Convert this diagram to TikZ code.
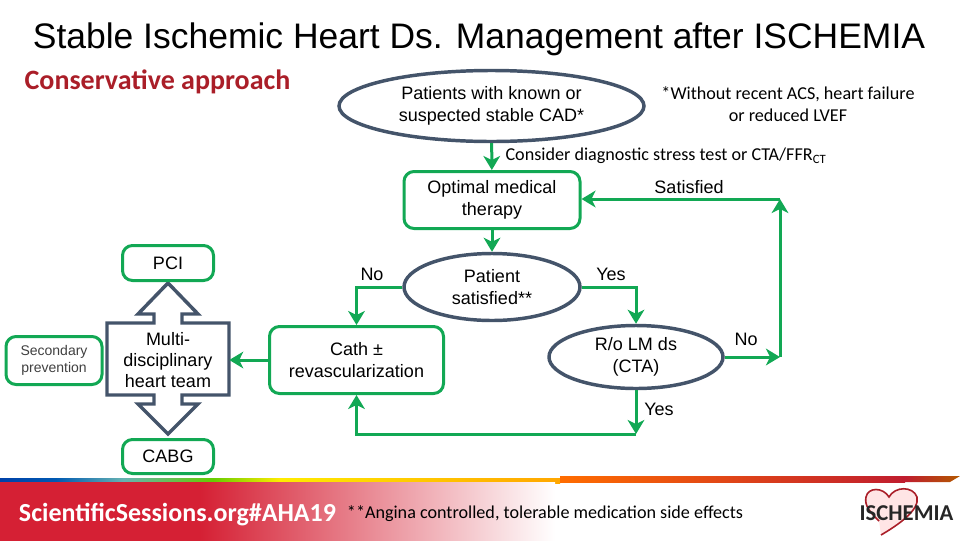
\documentclass[tikz,border=0pt]{standalone}
\usepackage{fontspec}
\setmainfont{Liberation Sans}
\newfontfamily\calibrifont{Carlito}
\usetikzlibrary{arrows.meta}
\usetikzlibrary{shapes.geometric}
\definecolor{flowgreen}{RGB}{18,168,84}
\definecolor{slateline}{RGB}{68,84,106}
\definecolor{titlered}{RGB}{170,30,40}
\definecolor{bandred}{RGB}{213,32,52}
\pgfdeclarehorizontalshading{rainbowband}{100bp}{
 color(0bp)=(bandred); color(6bp)=(purple!70!black); color(12bp)=(blue!55!black);
 color(30bp)=(blue!50!cyan!70!black); color(36bp)=(teal!60!white);
 color(44bp)=(green!50!yellow!80!black); color(50bp)=(yellow!85!orange);
 color(70bp)=(yellow!40!orange); color(100bp)=(orange!85!red)}
\tikzset{
 greenbox/.style={draw=flowgreen,line width=2.25pt,rounded corners=7.5pt,fill=white,align=center,inner sep=0pt,font=\fontsize{13.5}{16.5}\selectfont},
 slateoval/.style={ellipse,draw=slateline,line width=2.6pt,fill=white,align=center,inner sep=0pt,font=\fontsize{13.5}{16.5}\selectfont},
 flow/.style={draw=flowgreen,line width=2.25pt,-{Stealth[length=10.5pt,width=12.5pt,inset=3pt]}},
 lbl/.style={inner sep=0pt,font=\fontsize{13.5}{16.5}\selectfont},
 notetext/.style={inner sep=0pt,align=center,font=\calibrifont\fontsize{13.6}{16.5}\selectfont},
}
\begin{document}
\begin{tikzpicture}[x=0.75pt,y=-0.75pt]
    \useasboundingbox (0,0) rectangle (960,540);
    % footer
    \shade[shading=rainbowband] (0,478) rectangle (560,483);
    \shade[left color=orange!85!red,right color=bandred!90!black] (560,476) rectangle (905,482);
    \shade[left color=bandred!90!black,right color=orange!70!black] (905,476) -- (960,476) -- (950,482) -- (905,482) -- cycle;
    \fill[bandred] (0,482) rectangle (200,541);
    \shade[left color=bandred,right color=white] (200,482) rectangle (555,541);
    % logo
    \draw[titlered,line width=1.2pt,fill=red!10] (881,535) .. controls (898,525) and (920,510) .. (917,497)
        .. controls (913,486) and (895,486) .. (889,497) .. controls (883,487) and (868,487) .. (866,497)
        .. controls (864,506) and (871,513) .. (879,521);
    \node (logo) at (906.5,513) [inner sep=0pt,font=\calibrifont\bfseries\fontsize{17}{19}\selectfont,text=black!85] {ISCHEMIA};
    % texts
    \node (title) at (479,39) [inner sep=0pt,font=\fontsize{26.6}{30}\selectfont] {Stable Ischemic Heart Ds. Management after ISCHEMIA};
    \node (approach) at (157.5,82) [inner sep=0pt,text=titlered,font=\calibrifont\bfseries\fontsize{21}{24}\selectfont] {Conservative approach};
    \node (withoutnote) at (788,104.5) [notetext] {*Without recent ACS, heart failure\\or reduced LVEF};
    \node (considernote) at (666,156) [notetext] {Consider diagnostic stress test or CTA/FFR\textsubscript{CT}};
    \node (sessions) at (177.5,515) [inner sep=0pt,text=white,font=\calibrifont\bfseries\fontsize{19.5}{22}\selectfont] {ScientificSessions.org\#AHA19};
    \node (anginanote) at (545,514) [notetext] {**Angina controlled, tolerable medication side effects};
    % heart team arrow
    \draw[slateline,line width=2.6pt,fill=white,line join=miter] (107,323) -- (154,323) -- (154,314) -- (138,314)
        -- (168,283) -- (198,314) -- (182,314) -- (182,323) -- (229,323) -- (229,395) -- (182,395) -- (182,404)
        -- (198,404) -- (168,434) -- (138,404) -- (154,404) -- (154,395) -- (107,395) -- cycle;
    \node (team) at (168,360) [minimum width=122*0.75pt,minimum height=72*0.75pt,inner sep=0pt,align=center,font=\fontsize{13.5}{15.7}\selectfont] {Multi-\\disciplinary\\heart team};
    % boxes
    \node (start) at (491.5,106) [slateoval,minimum width=305*0.75pt,minimum height=71*0.75pt] {Patients with known or\\suspected stable CAD*};
    \node (omt) at (492,200) [greenbox,minimum width=176*0.75pt,minimum height=57*0.75pt] {Optimal medical\\therapy};
    \node (satisfied) at (492,287) [slateoval,minimum width=176*0.75pt,minimum height=67*0.75pt] {Patient\\satisfied**};
    \node (cath) at (356.5,360) [greenbox,minimum width=174*0.75pt,minimum height=67*0.75pt] {Cath ±\\revascularization};
    \node (lmds) at (636,357) [slateoval,minimum width=174*0.75pt,minimum height=63*0.75pt] {R/o LM ds\\(CTA)};
    \node (pci) at (168,263) [greenbox,minimum width=91*0.75pt,minimum height=35*0.75pt] {PCI};
    \node (cabg) at (168,456.5) [greenbox,minimum width=91*0.75pt,minimum height=34*0.75pt] {CABG};
    \node (secondary) at (54,360.5) [greenbox,minimum width=96*0.75pt,minimum height=48*0.75pt,font=\fontsize{10.5}{12.7}\selectfont,text=black!75] {Secondary\\prevention};
    % bends
    \coordinate (upperbend) at (780,199);
    \coordinate (lowerbend) at (780,357);
    \coordinate (bottombend) at (636,434);
    % connectors
    \draw[flow] (start) -- (omt);
    \draw[flow] (omt) -- (satisfied);
    \draw[flow] (satisfied.west) -| (cath.north);
    \draw[flow] (satisfied.east) -| (lmds.north);
    \draw[flow] (lmds.east) -- (lowerbend);
    \draw[flow] (lowerbend) -- (upperbend);
    \draw[flow] (upperbend) -- (upperbend -| omt.east);
    \draw[flow] (lmds.south) -- (bottombend);
    \draw[flow] (bottombend) -| (cath.south);
    \draw[flow] (cath.west |- team.east) -- (team.east);
    % labels
    \node (lblsatisfied) at (689,187) [lbl] {Satisfied};
    \node (lblno) at (372,274.5) [lbl] {No};
    \node (lblyes) at (611,274) [lbl] {Yes};
    \node (lblnoright) at (746,339) [lbl] {No};
    \node (lblyesdown) at (659,409) [lbl] {Yes};
\end{tikzpicture}
\end{document}
